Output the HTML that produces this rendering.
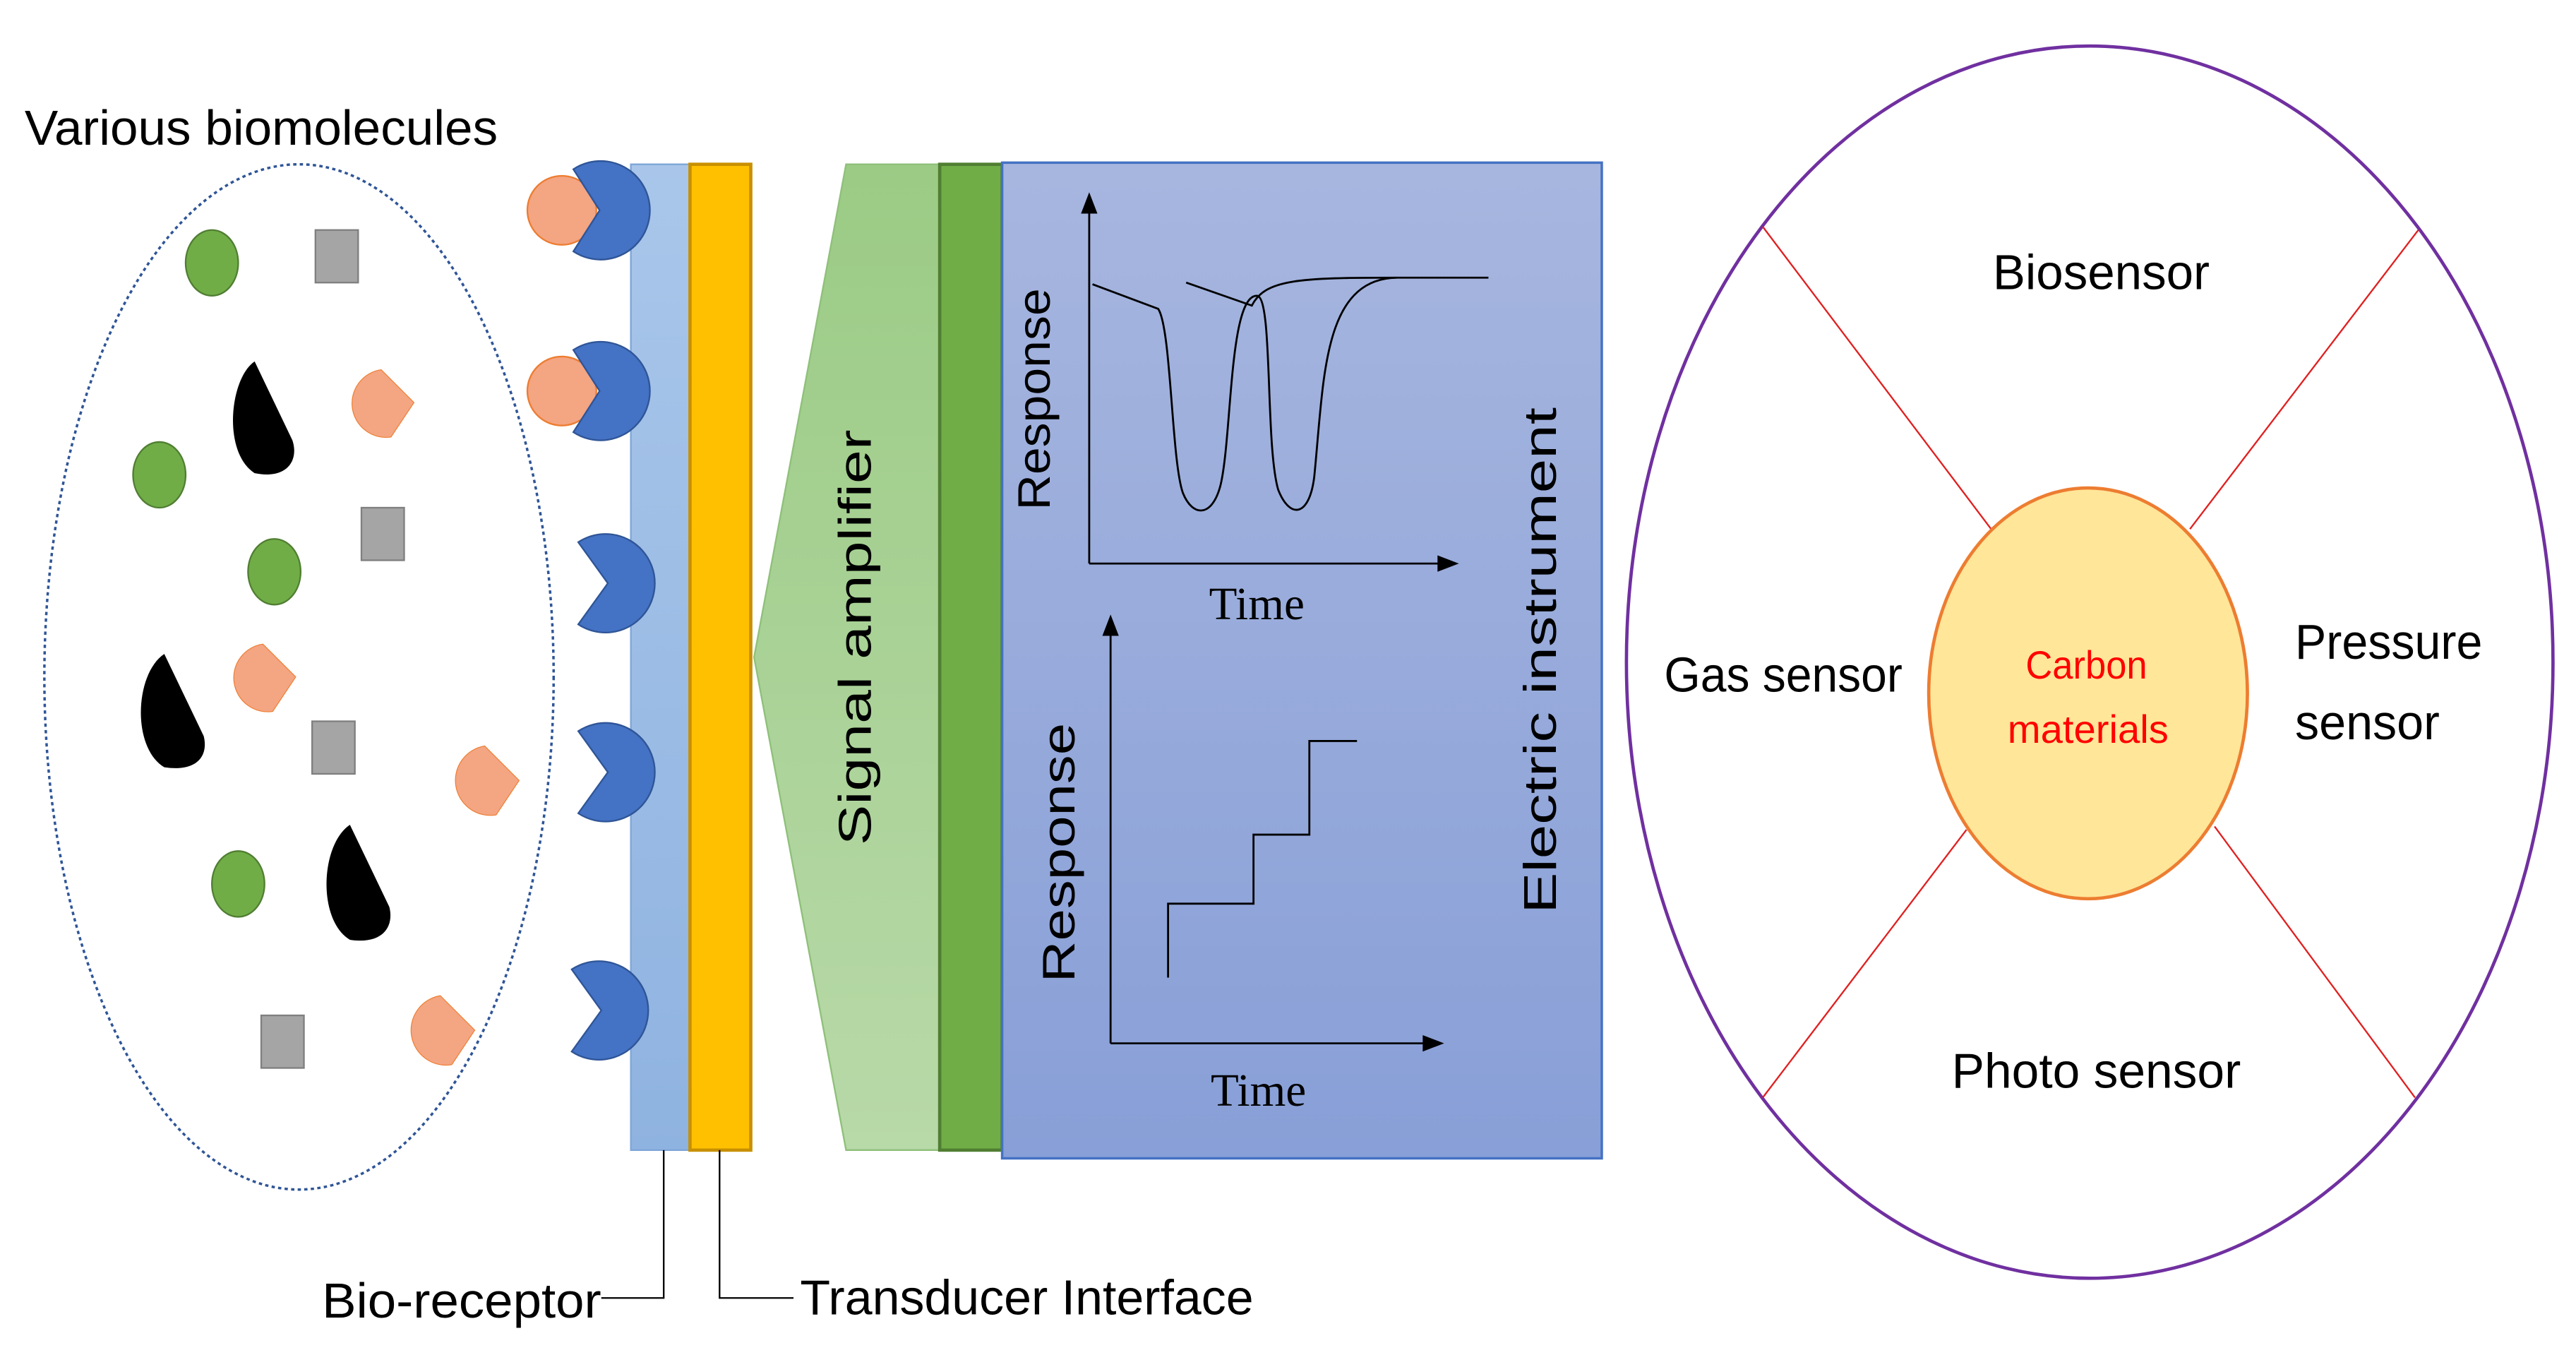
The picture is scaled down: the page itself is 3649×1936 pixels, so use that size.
<!DOCTYPE html>
<html><head><meta charset="utf-8"><style>html,body{margin:0;padding:0;background:#fff}svg{display:block}</style></head>
<body>
<svg width="3649" height="1936" viewBox="0 0 1568 832" preserveAspectRatio="none" xmlns="http://www.w3.org/2000/svg">
<defs>
<linearGradient id="gb" x1="0" y1="0" x2="0" y2="1"><stop offset="0" stop-color="#a9c6ea"/><stop offset="1" stop-color="#8fb3e0"/></linearGradient>
<linearGradient id="gg" x1="0" y1="0" x2="0" y2="1"><stop offset="0" stop-color="#9bcb85"/><stop offset="1" stop-color="#b8d9a8"/></linearGradient>
<linearGradient id="gi" x1="0" y1="0" x2="0" y2="1"><stop offset="0" stop-color="#a7b6df"/><stop offset="1" stop-color="#889fd7"/></linearGradient>
</defs>
<style>
.c{font-family:"Liberation Sans Narrow","Liberation Sans",sans-serif}
.s{font-family:"Liberation Sans",sans-serif}
.t{font-family:"Liberation Serif",serif}
</style>
<text x="15" y="88" class="c" font-size="30" textLength="288" lengthAdjust="spacingAndGlyphs">Various biomolecules</text>
<ellipse cx="182" cy="412" rx="155" ry="312" fill="none" stroke="#2f5597" stroke-width="1.5" stroke-dasharray="2,2"/>
<g fill="#70ad47" stroke="#507e32"><ellipse cx="129" cy="160" rx="16" ry="20"/><ellipse cx="97" cy="289" rx="16" ry="20"/><ellipse cx="167" cy="348" rx="16" ry="20"/><ellipse cx="145" cy="538" rx="16" ry="20"/></g>
<g fill="#a5a5a5" stroke="#7f7f7f"><rect x="192" y="140" width="26" height="32"/><rect x="220" y="309" width="26" height="32"/><rect x="190" y="439" width="26" height="32"/><rect x="159" y="618" width="26" height="32"/></g>
<g fill="#000"><path d="M155,220 C140,230 135,275 155,288 C175,292 182,280 178,268 Z"/><path d="M100,398 C82,410 80,455 100,467 C120,470 127,460 124,448 Z"/><path d="M213,502 C195,514 193,560 213,572 C233,575 240,564 237,552 Z"/></g>
<g fill="#f4a582" stroke="#ed7d31" stroke-width=".5">
<path d="M232,225 L252,245 L238,266 A20,20 0 1 1 232,225 Z"/>
<path d="M160,392 L180,412 L166,433 A20,20 0 1 1 160,392 Z"/>
<path d="M295,454 L316,475 L302,496 A20,20 0 1 1 295,454 Z"/>
<path d="M268,606 L289,627 L275,648 A20,20 0 1 1 268,606 Z"/>
</g>
<rect x="384" y="100" width="36" height="600" fill="url(#gb)" stroke="#7ea6d8"/>
<rect x="420" y="100" width="37" height="600" fill="#ffc000" stroke="#c89000" stroke-width="2"/>
<polygon points="515,100 572,100 572,700 515,700 459,400" fill="url(#gg)" stroke="#8fc07a"/>
<rect x="572" y="100" width="38" height="600" fill="#70ad47" stroke="#507e32" stroke-width="2"/>
<rect x="610" y="99" width="365" height="606" fill="url(#gi)" stroke="#4472c4" stroke-width="1.5"/>
<g fill="#f4a582" stroke="#ed7d31" stroke-width="1"><circle cx="342" cy="128" r="21"/><circle cx="342" cy="238" r="21"/></g>
<g fill="#4472c4" stroke="#2f5597">
<path d="M352,103 A30,30 0 1 1 352,153 L368,128 Z" transform="translate(-3,0)"/>
<path d="M352,213 A30,30 0 1 1 352,263 L368,238 Z" transform="translate(-3,0)"/>
<path d="M352,330 A30,30 0 1 1 352,380 L370,355 Z"/>
<path d="M352,445 A30,30 0 1 1 352,495 L370,470 Z"/>
<path d="M348,590 A30,30 0 1 1 348,640 L366,615 Z"/>
</g>
<polyline points="404,700 404,790 366,790" fill="none" stroke="#000" stroke-width="1"/>
<polyline points="438,700 438,790 483,790" fill="none" stroke="#000" stroke-width="1"/>
<text x="196" y="802" class="c" font-size="30" textLength="170" lengthAdjust="spacingAndGlyphs">Bio-receptor</text>
<text x="487" y="800" class="c" font-size="30" textLength="276" lengthAdjust="spacingAndGlyphs">Transducer Interface</text>
<text transform="translate(530,388) rotate(-90)" text-anchor="middle" class="s" font-size="28" textLength="253" lengthAdjust="spacingAndGlyphs">Signal amplifier</text>
<text transform="translate(947,402) rotate(-90)" text-anchor="middle" class="s" font-size="28" textLength="308" lengthAdjust="spacingAndGlyphs">Electric instrument</text>
<g stroke="#000" stroke-width="1.2" fill="none">
<line x1="663" y1="343" x2="663" y2="125"/><line x1="663" y1="343" x2="880" y2="343"/>
<path d="M665,173 L705,188 C713,200 713,280 720,300 C726,315 738,315 743,295 C750,265 748,180 765,180 C775,180 770,270 778,298 C785,316 797,315 800,290 C806,230 805,170 850,169 L906,169"/>
<path d="M722,172 L762,186 C770,170 790,169 850,169"/>
</g>
<polygon points="663,117 658,130 668,130" fill="#000"/><polygon points="888,343 875,338 875,348" fill="#000"/>
<text transform="translate(639,243) rotate(-90)" text-anchor="middle" class="s" font-size="28" textLength="135" lengthAdjust="spacingAndGlyphs">Response</text>
<text x="765" y="377" text-anchor="middle" class="t" font-size="28">Time</text>
<g stroke="#000" stroke-width="1.2" fill="none">
<line x1="676" y1="635" x2="676" y2="382"/><line x1="676" y1="635" x2="870" y2="635"/>
<polyline points="711,595 711,550 763,550 763,508 797,508 797,451 826,451"/>
</g>
<polygon points="676,374 671,387 681,387" fill="#000"/><polygon points="879,635 866,630 866,640" fill="#000"/>
<text transform="translate(654,519) rotate(-90)" text-anchor="middle" class="s" font-size="28" textLength="158" lengthAdjust="spacingAndGlyphs">Response</text>
<text x="766" y="673" text-anchor="middle" class="t" font-size="28">Time</text>
<ellipse cx="1272" cy="403" rx="282" ry="375" fill="#fff" stroke="#7030a0" stroke-width="2"/>
<g stroke="#e02020" stroke-width="1"><line x1="1073" y1="138" x2="1212" y2="322"/><line x1="1472" y1="140" x2="1333" y2="322"/><line x1="1073" y1="668" x2="1197" y2="505"/><line x1="1470" y1="668" x2="1348" y2="503"/></g>
<ellipse cx="1271" cy="422" rx="97" ry="125" fill="#ffe699" stroke="#ed7d31" stroke-width="2"/>
<text x="1233" y="413" class="c" font-size="24" fill="#ff0000" textLength="74" lengthAdjust="spacingAndGlyphs">Carbon</text>
<text x="1222" y="452" class="c" font-size="24" fill="#ff0000" textLength="98" lengthAdjust="spacingAndGlyphs">materials</text>
<text x="1213" y="176" class="c" font-size="30" textLength="132" lengthAdjust="spacingAndGlyphs">Biosensor</text>
<text x="1013" y="421" class="c" font-size="30" textLength="145" lengthAdjust="spacingAndGlyphs">Gas sensor</text>
<text x="1397" y="401" class="c" font-size="30" textLength="114" lengthAdjust="spacingAndGlyphs">Pressure</text>
<text x="1397" y="450" class="c" font-size="30" textLength="88" lengthAdjust="spacingAndGlyphs">sensor</text>
<text x="1188" y="662" class="c" font-size="30" textLength="176" lengthAdjust="spacingAndGlyphs">Photo sensor</text>
</svg>
</body></html>
